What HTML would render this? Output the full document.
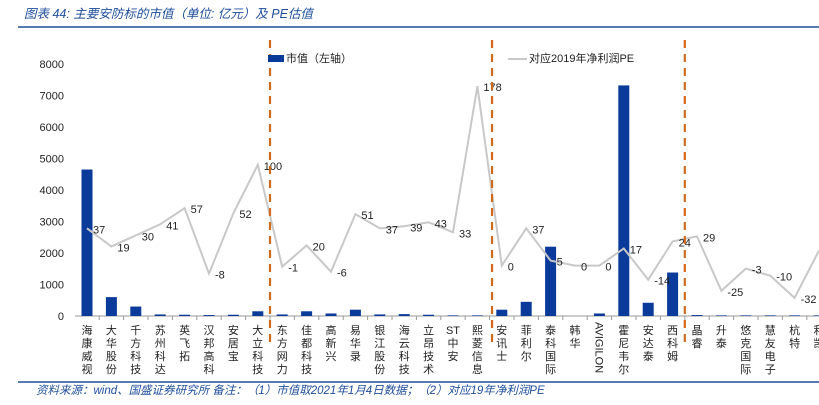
<!DOCTYPE html>
<html><head><meta charset="utf-8"><style>
body{margin:0;background:#fff;width:819px;height:400px;overflow:hidden;font-family:"Liberation Sans","Noto Sans CJK SC",sans-serif}
</style></head><body>
<svg width="819" height="400" xmlns="http://www.w3.org/2000/svg">
<text x="24" y="18" font-size="12.5" font-style="italic" fill="#1f4e9c">图表 44: 主要安防标的市值（单位: 亿元）及 PE估值</text>
<line x1="18" y1="27" x2="819" y2="27" stroke="#1f4e9c" stroke-width="1.5"/>
<line x1="18" y1="382" x2="819" y2="382" stroke="#1f4e9c" stroke-width="1.5"/>
<text x="36" y="394" font-size="11.5" font-style="italic" fill="#1f4e9c">资料来源：wind、国盛证券研究所  备注：（1）市值取2021年1月4日数据；（2）对应19年净利润PE</text>
<g id="axes"></g><g id="bars"></g><g id="line"></g><g id="labels"></g>
<rect x="268" y="55" width="16" height="7" fill="#0a3a9a"/>
<text x="286" y="62" font-size="11" fill="#222">市值（左轴）</text>
<line x1="508" y1="59" x2="527" y2="59" stroke="#c8c8c8" stroke-width="2"/>
<text x="529" y="62" font-size="11" fill="#222">对应2019年净利润PE</text>
</svg>
<script>
const categories=["海康威视","大华股份","千方科技","苏州科达","英飞拓","汉邦高科","安居宝","大立科技","东方网力","佳都科技","高新兴","易华录","银江股份","海云科技","立昂技术","ST中安","熙菱信息","安讯士","菲利尔","泰科国际","韩华","AVIGILON","霍尼韦尔","安达泰","西科姆","晶睿","升泰","悠克国际","慧友电子","杭特","利凯"];
const marketCap=[4650,600,300,50,40,30,40,150,50,150,80,200,50,60,40,20,20,200,450,2200,0,80,7320,420,1380,30,20,20,20,20,20];
const pe=[37,19,30,41,57,-8,52,100,-1,20,-6,51,37,39,43,33,178,0,37,5,0,0,17,-14,24,29,-25,-3,-10,-32,15];
const yTicks=[0,1000,2000,3000,4000,5000,6000,7000,8000];
const dividers=[7.5,16.6,24.5];
const NS="http://www.w3.org/2000/svg";
const X0=87,STEP=24.4,LEFT=75;
const xs=i=>X0+i*STEP;
const yL=v=>316-v*252/8000;
const yR=v=>316-(v+50)*252/250;
function mk(tag,attrs,parent){const e=document.createElementNS(NS,tag);for(const k in attrs)e.setAttribute(k,attrs[k]);document.getElementById(parent).appendChild(e);return e;}
yTicks.forEach(t=>{
 const e=mk("text",{x:64,y:yL(t)+4,"font-size":11,"text-anchor":"end",fill:"#222"},"axes");e.textContent=t;
 
 
});
const ax=mk("line",{x1:LEFT,y1:316,x2:819,y2:316,stroke:"#999"},"axes");


categories.forEach((c,i)=>{
 const tk=mk("line",{x1:xs(i)+STEP/2,y1:316,x2:xs(i)+STEP/2,y2:320,stroke:"#999"},"axes");
 
 
 let t;
 if(/^[A-Z]+$/.test(c)){
  t=mk("text",{x:xs(i)-4,y:322,"font-size":11,fill:"#222",transform:`rotate(90 ${xs(i)-4} 322)`},"axes");t.textContent=c;
 } else {
  t=mk("text",{x:xs(i),y:334,"font-size":11,fill:"#222","text-anchor":"middle"},"axes");
  const toks=c.match(/[A-Z]+|./g);
  toks.forEach((ch,k)=>{const s=document.createElementNS(NS,"tspan");s.setAttribute("x",xs(i));s.setAttribute("dy",k?13:0);s.textContent=ch;t.appendChild(s);});
 }
 
 
 const b=mk("rect",{x:xs(i)-5.5,y:yL(marketCap[i]),width:11,height:Math.max(316-yL(marketCap[i]),0),fill:"#0a3a9a"},"bars");
 
 
});
const d=pe.map((v,i)=>(i?"L":"M")+xs(i)+","+yR(v)).join("");
const pl=mk("path",{d:d,fill:"none",stroke:"#c8c8c8","stroke-width":2},"line");


pe.forEach((v,i)=>{
 const t=mk("text",{x:xs(i)+6,y:yR(v)+5,"font-size":11,fill:"#222"},"labels");t.textContent=v;
 
 
});
dividers.forEach(p=>{
 const x=X0+p*STEP;
 const l=mk("line",{x1:x,y1:40,x2:x,y2:345,stroke:"#d2691e","stroke-width":2.2,"stroke-dasharray":"8,6"},"labels");
 
 
});
</script>
</body></html>
